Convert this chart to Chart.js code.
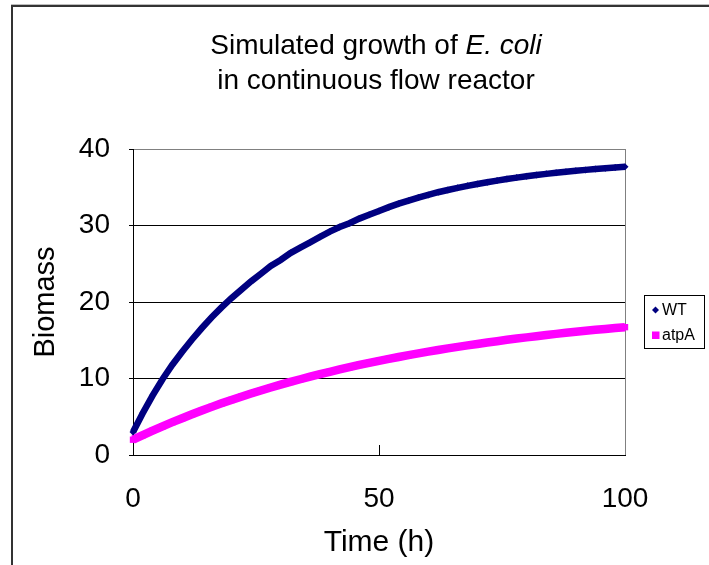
<!DOCTYPE html>
<html>
<head>
<meta charset="utf-8">
<script src="https://cdn.jsdelivr.net/npm/chart.js@4.4.1/dist/chart.umd.min.js"></script>
<style>
  html, body { margin: 0; padding: 0; background: #fff; }
  canvas { display: block; }
</style>
</head>
<body>
<canvas id="growthChart" width="709" height="565"></canvas>
<script>
// time points (h)
const hours = [0, 2, 4, 6, 8, 10, 12, 14, 16, 18, 20, 22, 24, 26, 28, 30, 32, 34, 36, 38, 40,
  42, 44, 46, 48, 50, 52, 54, 56, 58, 60, 62, 64, 66, 68, 70, 72, 74, 76, 78, 80,
  82, 84, 86, 88, 90, 92, 94, 96, 98, 100];

// biomass, wild type
const wtBiomass = [3.0, 5.5, 7.8, 9.9, 11.8, 13.5, 15.1, 16.6, 18.0, 19.3, 20.5,
  21.6, 22.7, 23.7, 24.7, 25.5, 26.4, 27.1, 27.8, 28.5, 29.2,
  29.8, 30.3, 30.9, 31.4, 31.9, 32.4, 32.85, 33.25, 33.65, 34.0,
  34.35, 34.64, 34.92, 35.18, 35.43, 35.65, 35.87, 36.07, 36.26, 36.43,
  36.6, 36.75, 36.89, 37.03, 37.15, 37.27, 37.38, 37.48, 37.58, 37.67];

// biomass, atpA mutant
const atpABiomass = [2.0, 2.6, 3.18, 3.75, 4.29, 4.81, 5.32, 5.81, 6.29, 6.75, 7.19,
  7.62, 8.03, 8.43, 8.82, 9.19, 9.55, 9.9, 10.24, 10.57, 10.88,
  11.19, 11.48, 11.77, 12.04, 12.31, 12.56, 12.81, 13.05, 13.28, 13.51,
  13.73, 13.94, 14.14, 14.33, 14.52, 14.71, 14.88, 15.06, 15.22, 15.38,
  15.53, 15.68, 15.83, 15.97, 16.1, 16.23, 16.36, 16.48, 16.6, 16.71];

const seriesNames = ["WT", "atpA"];
const seriesColors = ["#000080", "#ff00ff"];
const xTicks = [0, 50, 100];
const yTicks = [0, 10, 20, 30, 40];

const FONT = "'Liberation Sans', Arial, sans-serif";

const toPoints = (ys) => hours.map((h, i) => ({ x: h, y: ys[i] }));

// frame + title + legend + inside x ticks, drawn by hand like the Excel original
const decorations = {
  id: "decorations",
  beforeDraw(chart) {
    const ctx = chart.ctx;
    ctx.save();
    ctx.fillStyle = "#fff";
    ctx.fillRect(0, 0, chart.width, chart.height);
    ctx.strokeStyle = "#bdbdbd";
    ctx.lineWidth = 1;
    ctx.beginPath();
    ctx.moveTo(11, 4.5);
    ctx.lineTo(chart.width, 4.5);
    ctx.stroke();
    ctx.strokeStyle = "#333";
    ctx.lineWidth = 2;
    ctx.beginPath();
    ctx.moveTo(12, chart.height);
    ctx.lineTo(12, 6);
    ctx.lineTo(chart.width, 6);
    ctx.stroke();
    ctx.restore();
  },
  afterDraw(chart) {
    const ctx = chart.ctx;
    const xs = chart.scales.x;
    ctx.save();

    // inward tick marks on the time axis
    ctx.strokeStyle = "#000";
    ctx.lineWidth = 1;
    xTicks.slice(1, -1).forEach((v) => {
      const px = Math.round(xs.getPixelForValue(v)) + 0.5;
      ctx.beginPath();
      ctx.moveTo(px, chart.chartArea.bottom);
      ctx.lineTo(px, chart.chartArea.bottom - 10);
      ctx.stroke();
    });

    // title, with the species name in italics
    ctx.fillStyle = "#000";
    ctx.textBaseline = "alphabetic";
    ctx.textAlign = "left";
    const cx = 376;
    const size = 28;
    const plain = "Simulated growth of ";
    const ital = "E. coli";
    ctx.font = size + "px " + FONT;
    const w1 = ctx.measureText(plain).width;
    ctx.font = "italic " + size + "px " + FONT;
    const w2 = ctx.measureText(ital).width;
    const x0 = cx - (w1 + w2) / 2;
    ctx.font = size + "px " + FONT;
    ctx.fillText(plain, x0, 54);
    ctx.font = "italic " + size + "px " + FONT;
    ctx.fillText(ital, x0 + w1, 54);
    ctx.font = size + "px " + FONT;
    ctx.textAlign = "center";
    ctx.fillText("in continuous flow reactor", cx, 89);

    // legend box
    ctx.strokeStyle = "#000";
    ctx.lineWidth = 1;
    ctx.strokeRect(644.5, 295.5, 60, 53);
    ctx.font = "16px " + FONT;
    ctx.textAlign = "left";
    ctx.textBaseline = "middle";
    const rows = [310, 335];
    rows.forEach((ry, i) => {
      ctx.fillStyle = seriesColors[i];
      if (i === 0) {
        ctx.beginPath();
        ctx.moveTo(655.5, ry - 3.5);
        ctx.lineTo(659, ry);
        ctx.lineTo(655.5, ry + 3.5);
        ctx.lineTo(652, ry);
        ctx.closePath();
        ctx.fill();
      } else {
        ctx.fillRect(652, ry - 3.5, 7.5, 7.5);
      }
      ctx.fillStyle = "#000";
      ctx.fillText(seriesNames[i], 662, ry + 1);
    });

    ctx.restore();
  },
};

const ctx = document.getElementById("growthChart").getContext("2d");
new Chart(ctx, {
  type: "scatter",
  data: {
    datasets: [
      {
        label: seriesNames[0],
        data: toPoints(wtBiomass),
        showLine: true,
        borderColor: seriesColors[0],
        backgroundColor: seriesColors[0],
        borderWidth: 6.5,
        pointStyle: "rectRot",
        pointRadius: 3.5,
        pointBorderWidth: 0,
        clip: false,
      },
      {
        label: seriesNames[1],
        data: toPoints(atpABiomass),
        showLine: true,
        borderColor: seriesColors[1],
        backgroundColor: seriesColors[1],
        borderWidth: 8.5,
        pointStyle: "rect",
        pointRadius: 4.5,
        pointBorderWidth: 0,
        clip: false,
      },
    ],
  },
  options: {
    responsive: false,
    animation: false,
    layout: {
      padding: { top: 149, right: 84, left: 0, bottom: 0 },
    },
    plugins: {
      legend: { display: false },
      tooltip: { enabled: false },
      title: { display: false },
    },
    scales: {
      x: {
        type: "linear",
        min: 0,
        max: 100,
        afterFit: (scale) => { scale.height = 110; },
        afterBuildTicks: (scale) => { scale.ticks = xTicks.map((v) => ({ value: v })); },
        ticks: {
          color: "#000",
          padding: 27,
          maxRotation: 0,
          font: { family: FONT, size: 28 },
        },
        grid: {
          drawTicks: false,
          color: (c) => (c.tick && c.tick.value === 100 ? "#808080" : "rgba(0,0,0,0)"),
          lineWidth: 1,
        },
        border: { color: "#000", width: 1 },
        title: {
          display: true,
          text: "Time (h)",
          color: "#000",
          font: { family: FONT, size: 30 },
          padding: { top: 0, bottom: 4 },
        },
      },
      y: {
        min: 0,
        max: 40,
        afterFit: (scale) => { scale.width = 133; },
        afterBuildTicks: (scale) => { scale.ticks = yTicks.map((v) => ({ value: v })); },
        ticks: {
          color: "#000",
          padding: 19,
          font: { family: FONT, size: 28 },
        },
        grid: {
          drawTicks: true,
          tickLength: 4,
          tickColor: "#000",
          color: (c) => {
            if (!c.tick) return "#000";
            if (c.tick.value === 40) return "#808080";
            if (c.tick.value === 0) return "rgba(0,0,0,0)";
            return "#000";
          },
          lineWidth: 1,
        },
        border: { color: "#000", width: 1 },
        title: {
          display: true,
          text: "Biomass",
          color: "#000",
          font: { family: FONT, size: 29 },
          padding: { top: 29, bottom: 0 },
        },
      },
    },
  },
  plugins: [decorations],
});
</script>
</body>
</html>
